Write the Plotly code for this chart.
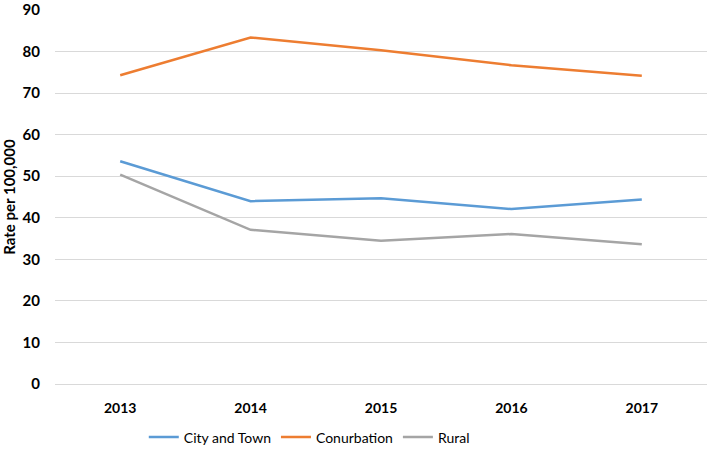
import plotly.graph_objects as go

years = ["2013", "2014", "2015", "2016", "2017"]
city_town = [53.6, 44.0, 44.7, 42.1, 44.4]
conurbation = [74.3, 83.4, 80.3, 76.7, 74.2]
rural = [50.4, 37.1, 34.5, 36.1, 33.6]

series = [
    ("City and Town", city_town, "#5B9BD5"),
    ("Conurbation", conurbation, "#ED7D31"),
    ("Rural", rural, "#A5A5A5"),
]

fig = go.Figure()
for name, vals, color in series:
    fig.add_trace(go.Scatter(x=years, y=vals, name=name, mode="lines",
                             line=dict(color=color, width=2.5)))

font_family = "Lato, 'Open Sans', sans-serif"
fig.update_layout(
    width=709, height=449,
    margin=dict(l=55, r=2, t=10, b=65, autoexpand=False),
    paper_bgcolor="white", plot_bgcolor="white",
    font=dict(family=font_family, color="#000000"),
    showlegend=True,
    legend=dict(orientation="h", x=0.39, xanchor="center", y=-0.143, yanchor="middle",
                font=dict(size=14, family=font_family, color="#000000"),
                itemwidth=30),
    xaxis=dict(type="category", range=[-0.5, 4.5], showgrid=False, showline=False, ticks="",
               automargin=False, ticklabelstandoff=14,
               tickfont=dict(size=14, family=font_family, color="#000000", weight="bold")),
    yaxis=dict(range=[0, 90], dtick=10, showgrid=True, gridcolor="#D9D9D9", gridwidth=1,
               zeroline=True, zerolinecolor="#D9D9D9", zerolinewidth=1,
               showline=False, ticks="", ticklabelstandoff=14, automargin=False,
               ticklabeloverflow="allow",
               tickfont=dict(size=15, family=font_family, color="#000000", weight="bold"),
               title=dict(text="Rate per 100,000", standoff=6,
                          font=dict(size=15, family=font_family, color="#000000", weight="bold"))),
)

fig.write_html("out.html", config={"displayModeBar": False},
               post_script="document.body.style.margin='0';")
